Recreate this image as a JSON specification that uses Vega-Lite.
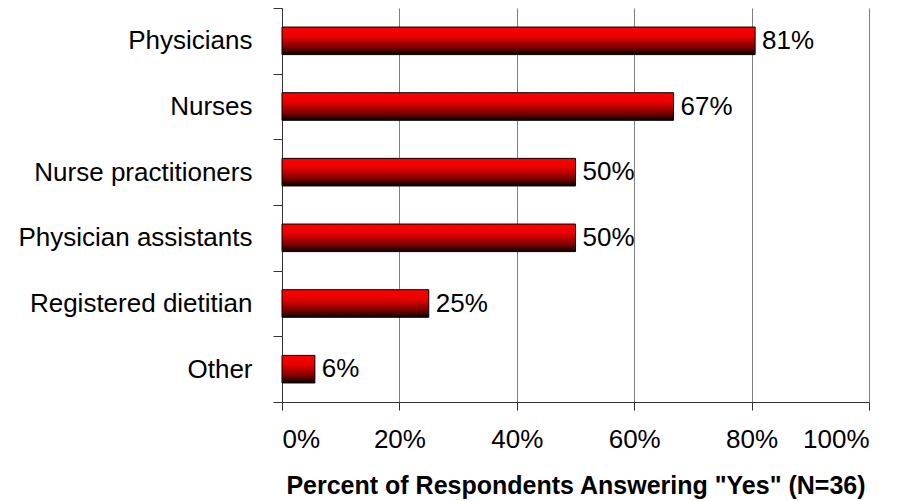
{
  "$schema": "https://vega.github.io/schema/vega-lite/v6.json",
  "width": 587,
  "height": 394,
  "autosize": {"type": "none"},
  "padding": {"left": 282, "top": 8, "right": 36, "bottom": 99},
  "background": "white",
  "config": {
    "font": "Liberation Sans",
    "view": {"stroke": null},
    "axis": {"labelFont": "Liberation Sans", "titleFont": "Liberation Sans", "labelColor": "black", "titleColor": "black"}
  },
  "data": {
    "values": [
      {"group": "Physicians", "pct": 0.806, "label": "81%"},
      {"group": "Nurses", "pct": 0.667, "label": "67%"},
      {"group": "Nurse practitioners", "pct": 0.5, "label": "50%"},
      {"group": "Physician assistants", "pct": 0.5, "label": "50%"},
      {"group": "Registered dietitian", "pct": 0.25, "label": "25%"},
      {"group": "Other", "pct": 0.056, "label": "6%"}
    ]
  },
  "encoding": {
    "y": {
      "field": "group",
      "type": "nominal",
      "sort": null,
      "scale": {"paddingInner": 0, "paddingOuter": 0},
      "axis": {
        "title": null,
        "labelFontSize": 26,
        "labelLimit": 0,
        "labelPadding": 21,
        "tickSize": 9,
        "tickBand": "extent",
        "tickColor": "#333",
        "domainColor": "#333",
        "grid": false
      }
    },
    "x": {
      "field": "pct",
      "type": "quantitative",
      "scale": {"domain": [0, 1], "nice": false},
      "axis": {
        "values": [0, 0.2, 0.4, 0.6, 0.8, 1],
        "format": ".0%",
        "labelFontSize": 26,
        "labelPadding": 16,
        "tickSize": 8,
        "tickColor": "#333",
        "domainColor": "#333",
        "grid": true,
        "gridColor": "#808080",
        "gridOpacity": 1,
        "title": "Percent of Respondents Answering \"Yes\" (N=36)",
        "titleFontSize": 25,
        "titleFontWeight": "bold",
        "titlePadding": 21
      }
    }
  },
  "layer": [
    {
      "mark": {
        "type": "bar",
        "height": {"band": 0.42},
        "stroke": "black",
        "strokeWidth": 1,
        "color": {
          "gradient": "linear",
          "x1": 0, "y1": 0, "x2": 0, "y2": 1,
          "stops": [
            {"offset": 0, "color": "#ff0000"},
            {"offset": 0.35, "color": "#e60000"},
            {"offset": 0.75, "color": "#7a0000"},
            {"offset": 1, "color": "#080000"}
          ]
        }
      }
    },
    {
      "mark": {"type": "text", "align": "left", "baseline": "middle", "dx": 7, "fontSize": 26, "color": "black"},
      "encoding": {"text": {"field": "label"}}
    }
  ]
}
